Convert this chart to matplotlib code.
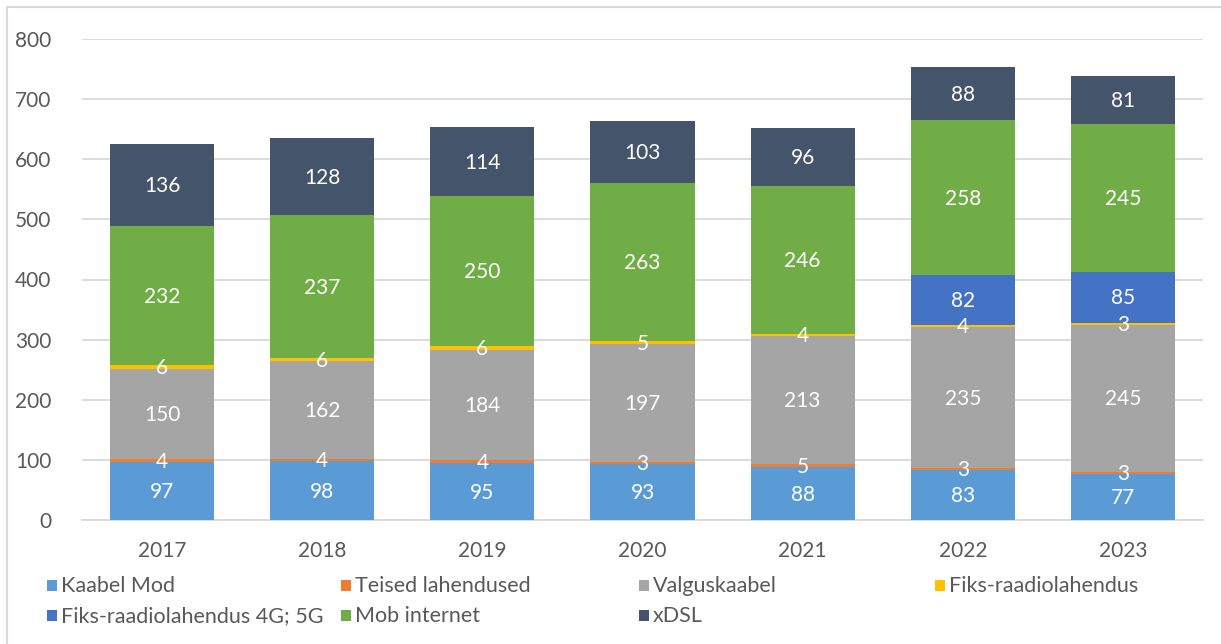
import matplotlib
matplotlib.use("Agg")
import matplotlib.pyplot as plt
import numpy as np
from matplotlib.patches import Rectangle

plt.rcParams['font.family'] = ['Lato', 'DejaVu Sans']

years = ['2017', '2018', '2019', '2020', '2021', '2022', '2023']
series_names = ['Kaabel Mod', 'Teised lahendused', 'Valguskaabel', 'Fiks-raadiolahendus',
                'Fiks-raadiolahendus 4G; 5G', 'Mob internet', 'xDSL']
kaabel_mod = [97, 98, 95, 93, 88, 83, 77]
teised = [4, 4, 4, 3, 5, 3, 3]
valguskaabel = [150, 162, 184, 197, 213, 235, 245]
fiks_raadio = [6, 6, 6, 5, 4, 4, 3]
fiks_4g5g = [0, 0, 0, 0, 0, 82, 85]
mob_internet = [232, 237, 250, 263, 246, 258, 245]
xdsl = [136, 128, 114, 103, 96, 88, 81]
yticks = [0, 100, 200, 300, 400, 500, 600, 700, 800]

series = [kaabel_mod, teised, valguskaabel, fiks_raadio, fiks_4g5g, mob_internet, xdsl]
colors = ['#5B9BD5', '#ED7D31', '#A5A5A5', '#FFC000', '#4472C4', '#70AD47', '#44546A']

W, H = 1221, 644
fig = plt.figure(figsize=(W / 100, H / 100), dpi=100)
ax = fig.add_axes([82 / W, 1 - 520 / H, (1203 - 82) / W, (520 - 39) / H])

x = np.arange(len(years))
bottom = np.zeros(len(years))
for vals, c in zip(series, colors):
    v = np.array(vals, dtype=float)
    ax.bar(x, v, bottom=bottom, width=0.65, color=c, zorder=3, linewidth=0)
    for xi, vi, bi in zip(x, v, bottom):
        if vi > 0:
            ax.text(xi, bi + vi / 2 - 2, f"{int(vi)}", ha='center', va='center',
                    color='white', fontsize=15, zorder=4)
    bottom += v

ax.set_xlim(-0.5, len(years) - 0.5)
ax.set_ylim(0, 800)
ax.set_yticks(yticks)
ax.set_xticks(x)
ax.set_xticklabels(years)
ax.yaxis.grid(True, color='#D9D9D9', linewidth=1.3, zorder=0)
ax.set_axisbelow(True)
for s in ['top', 'right', 'left']:
    ax.spines[s].set_visible(False)
ax.spines['bottom'].set_color('#D9D9D9')
ax.spines['bottom'].set_linewidth(1.3)
ax.tick_params(axis='both', length=0, labelsize=15, labelcolor='#595959')
ax.tick_params(axis='y', pad=22)
ax.tick_params(axis='x', pad=15)

# chart border (left/top visible)
fig.add_artist(Rectangle((7 / W, -0.1), 1.2, (1 - 7 / H) + 0.1, transform=fig.transFigure,
                         fill=False, edgecolor='#D9D9D9', linewidth=1.5))

# manual legend
leg_x = [47, 341, 639, 935]
leg_y = [586, 616]
for i, (name, c) in enumerate(zip(series_names, colors)):
    r, col = divmod(i, 4)
    px, py = leg_x[col], leg_y[r]
    fig.add_artist(Rectangle((px / W, 1 - (py + 5) / H), 10 / W, 11 / H,
                             transform=fig.transFigure, facecolor=c, edgecolor='none'))
    fig.text((px + 14) / W, 1 - py / H, name, ha='left', va='center',
             fontsize=15.5, color='#595959')

fig.savefig('out.png', dpi=100)
